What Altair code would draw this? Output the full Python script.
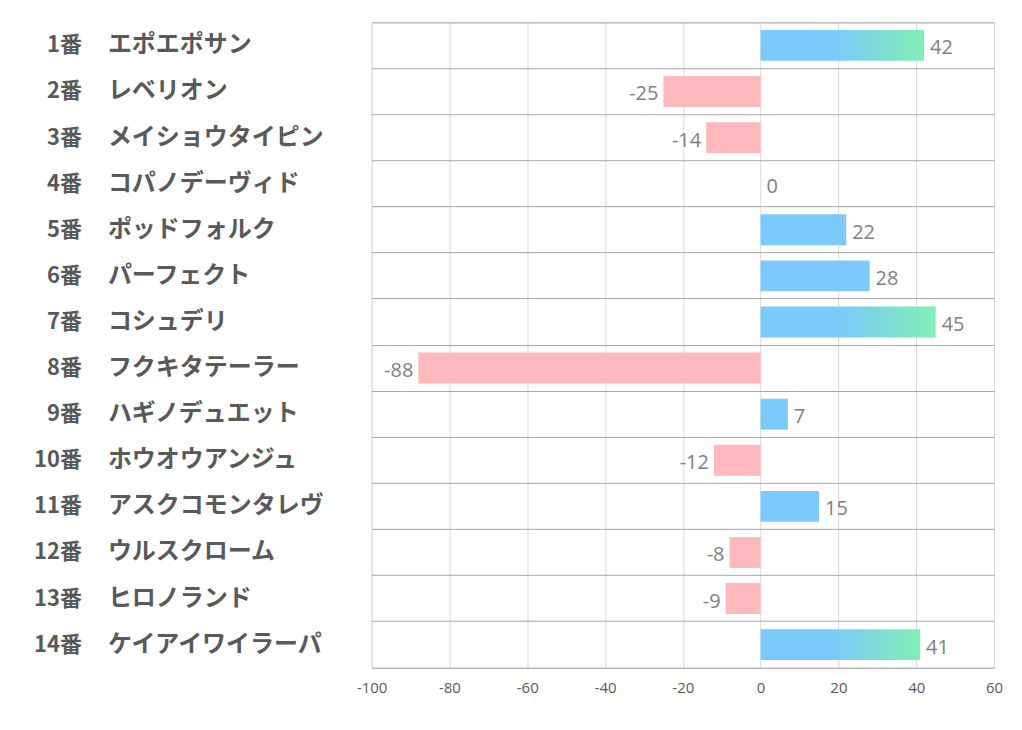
import altair as alt
import pandas as pd

nums = ["1番", "2番", "3番", "4番", "5番", "6番", "7番", "8番", "9番", "10番", "11番", "12番", "13番", "14番"]
names = ["エポエポサン", "レベリオン", "メイショウタイピン", "コパノデーヴィド", "ポッドフォルク",
         "パーフェクト", "コシュデリ", "フクキタテーラー", "ハギノデュエット", "ホウオウアンジュ",
         "アスクコモンタレヴ", "ウルスクローム", "ヒロノランド", "ケイアイワイラーパ"]
values = [42, -25, -14, 0, 22, 28, 45, -88, 7, -12, 15, -8, -9, 41]
x_ticks = [-100, -80, -60, -40, -20, 0, 20, 40, 60]

df = pd.DataFrame({"num": nums, "name": names, "value": values})

BLUE = "#7cc9fb"
GREEN = "#80f0b4"
PINK = "#ffb9bd"
JP = "Noto Sans CJK JP"

y_scale = alt.Scale(domain=nums, paddingInner=0, paddingOuter=0)
y_enc = alt.Y("num:N", sort=nums, scale=y_scale,
              axis=alt.Axis(labels=False, ticks=False, domain=False, title=None,
                            grid=True, gridColor="#a6a6a6", gridWidth=1, bandPosition=0))
y_plain = alt.Y("num:N", sort=nums, scale=y_scale)
x_enc = alt.X("value:Q", scale=alt.Scale(domain=[-100, 60], nice=False),
              axis=alt.Axis(values=x_ticks, title=None, ticks=False, grid=True,
                            gridColor="#d9d9d9", domainColor="#a6a6a6",
                            labelFontSize=15, labelColor="#595959", labelPadding=13,
                            labelFlush=False,
                            labelFont="Open Sans", labelExpr="'' + datum.value"))

base = alt.Chart(df).transform_calculate(label="'' + datum.value")

bar_h = alt.RelativeBandSize(0.67)

pos_bars = base.transform_filter("datum.value > 0 && datum.value < 40").mark_bar(
    color=BLUE, height=bar_h).encode(x=x_enc, x2=alt.datum(0), y=y_enc)

neg_bars = base.transform_filter("datum.value < 0").mark_bar(
    color=PINK, height=bar_h).encode(x=x_enc, x2=alt.datum(0), y=y_enc)

grad_bars = base.transform_filter("datum.value >= 40").mark_bar(
    height=bar_h,
    color=alt.Gradient(gradient="linear",
                       stops=[alt.GradientStop(color=BLUE, offset=0),
                              alt.GradientStop(color=BLUE, offset=0.45),
                              alt.GradientStop(color=GREEN, offset=1)],
                       x1=0, x2=1, y1=0, y2=0)).encode(x=x_enc, x2=alt.datum(0), y=y_enc)

pos_text = base.transform_filter("datum.value >= 0").mark_text(
    align="left", dx=6, dy=3, fontSize=20, color="#7f7f7f", font="Open Sans").encode(
    x="value:Q", y=y_plain, text="label:N")

neg_text = base.transform_filter("datum.value < 0").mark_text(
    align="right", dx=-5, dy=3, fontSize=20, color="#7f7f7f", font="Open Sans").encode(
    x="value:Q", y=y_plain, text="label:N")

num_text = base.mark_text(align="right", fontSize=22, fontWeight="bold", color="#595959",
                          font=JP).encode(
    x=alt.value(-290), y=y_plain, text="num:N")

name_text = base.mark_text(align="left", fontSize=24, fontWeight="bold", color="#595959",
                           font=JP).encode(
    x=alt.value(-264), y=y_plain, text="name:N")

chart = alt.layer(pos_bars, neg_bars, grad_bars, pos_text, neg_text, num_text, name_text).properties(
    width=623, height=646,
    autosize=alt.AutoSizeParams(type="none"),
    padding={"left": 364, "top": 14, "right": 20, "bottom": 50},
).configure_view(stroke=None).configure(background="white")

chart.save("out.html", embed_options={"renderer": "svg", "actions": False})
